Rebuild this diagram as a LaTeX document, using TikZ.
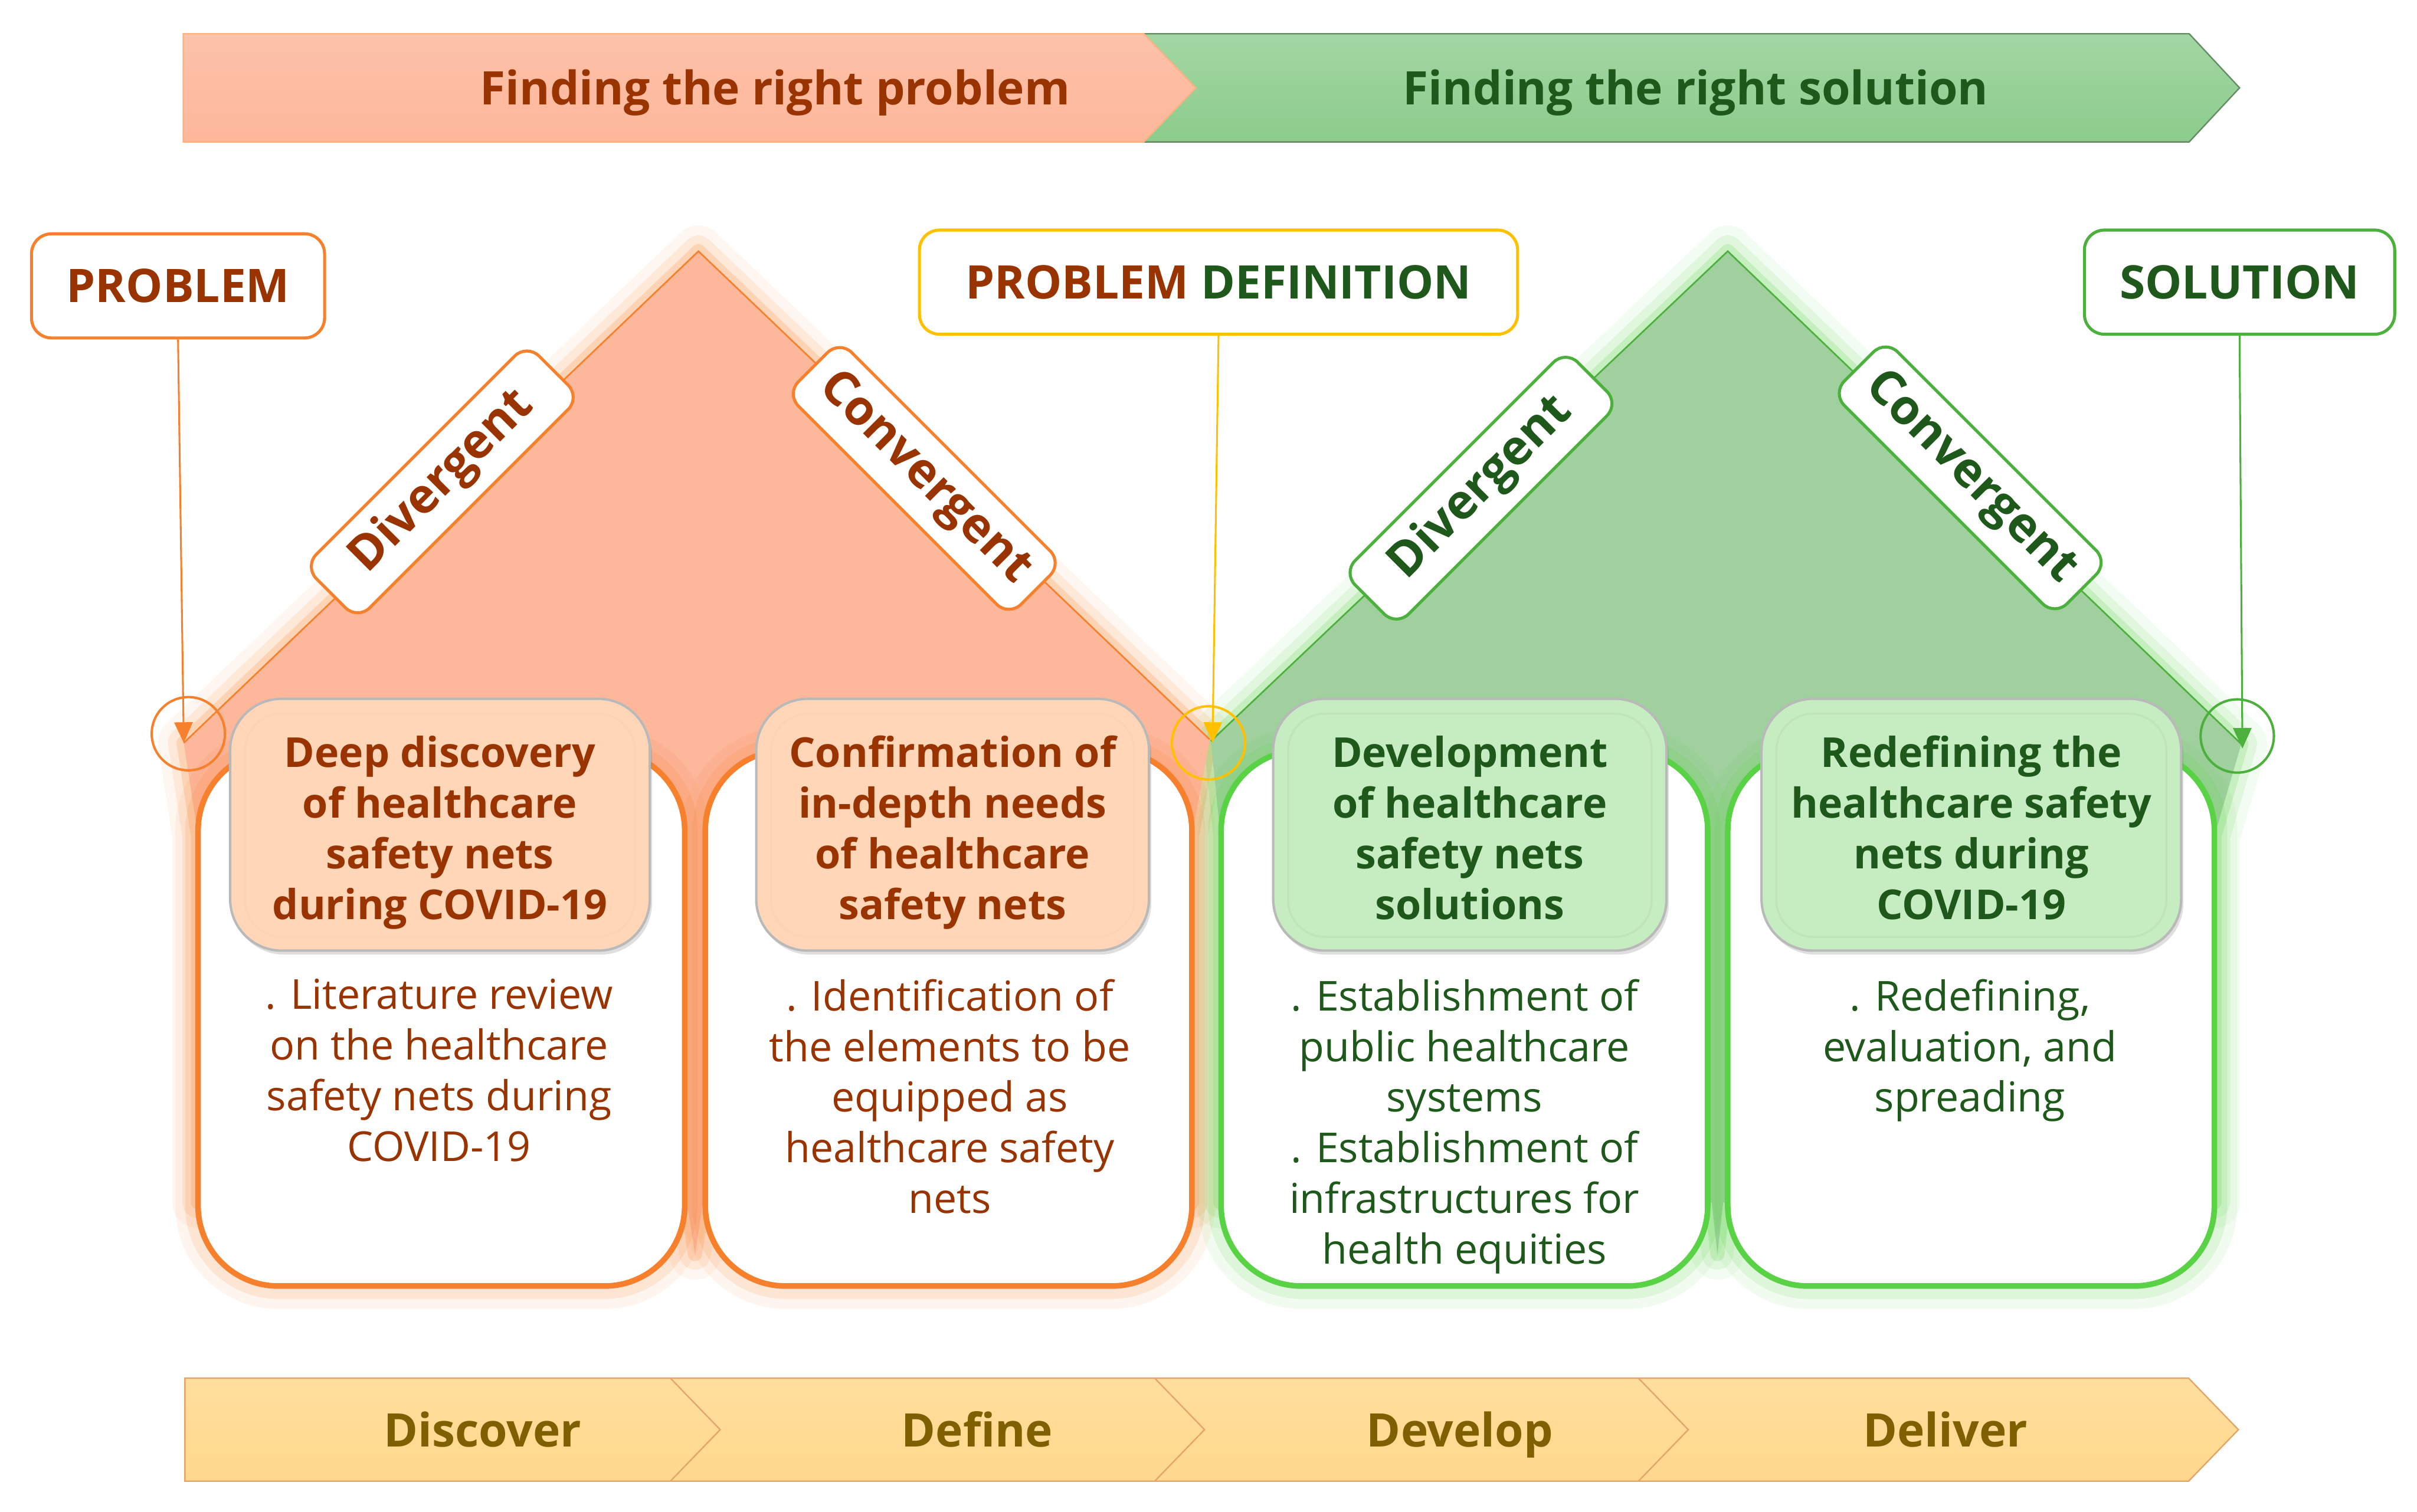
\documentclass[tikz,border=0pt]{standalone}
\usepackage{fontspec}
\setmainfont{Open Sans}
\usepackage{tikz}
\usetikzlibrary{positioning,arrows.meta,calc,shadows}
\definecolor{dpbrown}{RGB}{153,51,0}
\definecolor{dpgreen}{RGB}{30,88,26}
\definecolor{dpgold}{RGB}{127,96,0}
\definecolor{dporange}{RGB}{247,128,44}
\definecolor{dpyellow}{RGB}{255,192,0}
\definecolor{dplime}{RGB}{76,176,60}
\definecolor{dpglow}{RGB}{90,210,70}
\definecolor{dpsalmon}{RGB}{253,183,155}
\definecolor{dpsage}{RGB}{160,208,158}
\definecolor{dpleaf}{RGB}{140,204,140}
\definecolor{dppeach}{RGB}{255,214,184}
\definecolor{dpmint}{RGB}{198,236,194}
\definecolor{dpsand}{RGB}{255,216,140}
\tikzset{
  bandtext/.style={font=\fontsize{23}{27}\selectfont\bfseries, inner sep=0pt, anchor=base},
  calloutbox/.style={draw=#1, line width=1.5pt, rounded corners=0.35cm, fill=white,
                     minimum height=1.82cm, inner sep=0pt, font=\fontsize{23}{27}\selectfont\bfseries},
  ring/.style={circle, draw=#1, line width=1.2pt, minimum size=1.28cm, inner sep=0pt},
  pointarrow/.style={draw=#1, line width=0.9pt, -{Triangle[length=0.36cm,width=0.32cm]}},
  slantbox/.style={draw=#1, line width=1.5pt, rounded corners=0.3cm, fill=white,
                   minimum width=5.5cm, minimum height=1.32cm, inner sep=0pt,
                   font=\fontsize{24}{28}\selectfont\bfseries},
  phasebox/.style={draw=#1, line width=2.8pt, rounded corners=1.4cm, fill=white,
                   minimum width=8.5cm, minimum height=9.36cm, inner sep=0pt,
                   preaction={draw=#1, line width=0.8cm, draw opacity=0.08},
                   preaction={draw=#1, line width=0.45cm, draw opacity=0.14}},
  headbox/.style={fill=#1, draw=gray!55, line width=1.2pt, rounded corners=0.9cm,
                  minimum height=4.40cm, inner sep=0pt, align=center,
                  text height=3.3cm, text depth=0pt,
                  font=\fontsize{20.5}{25.2}\selectfont\bfseries,
                  drop shadow={shadow xshift=0.04cm, shadow yshift=-0.07cm, opacity=0.25}},
  bevel/.style={draw=#1, line width=1pt, rounded corners=0.65cm},
  bodytext/.style={font=\fontsize{20.5}{25.2}\selectfont, align=center, anchor=north, inner sep=0pt},
  chevron/.style={draw=brown!60!orange!70, line width=0.7pt, top color=dpsand!85!white, bottom color=dpsand},
}

\begin{document}
\begin{tikzpicture}[x=1cm, y=1cm]
\useasboundingbox (0,0) rectangle (42.22,26.41);

% top banner: the problem space runs into the solution space
\draw[draw=green!25!black!60, line width=0.7pt, top color=dpleaf!80!white, bottom color=dpleaf]
  (19.98,25.82) -- (38.24,25.82) -- (39.12,24.875) -- (38.24,23.93) -- (19.98,23.93) -- cycle;
\draw[draw=dporange!60, line width=0.7pt, top color=dpsalmon!85!white, bottom color=dpsalmon]
  (3.20,25.82) -- (19.98,25.82) -- (20.89,24.875) -- (19.98,23.93) -- (3.20,23.93) -- cycle;
\node[bandtext, text=dpbrown] (findP) at (13.54,24.58) {Finding the right problem};
\node[bandtext, text=dpgreen] (findS) at (29.62,24.58) {Finding the right solution};

% the two diamonds, corners at the three rings
\coordinate (oL) at (3.21,13.43);  \coordinate (oP) at (12.20,22.02); \coordinate (oR) at (21.13,13.49);
\coordinate (gL) at (21.15,13.46); \coordinate (gP) at (30.18,22.02); \coordinate (gR) at (39.15,13.41);

\foreach \w/\o in {0.9/0.07, 0.55/0.12, 0.25/0.2}
  \draw[dporange, line width=\w cm, draw opacity=\o, line join=round]
    (oL) -- (oP) -- (oR) -- (20.82,11.8) -- (20.82,5.4) -- (12.28,5.4) -- (12.14,4.5)
    -- (12.0,5.4) -- (3.46,5.4) -- (3.46,11.8) -- cycle;
\foreach \w/\o in {0.9/0.07, 0.55/0.12, 0.25/0.2}
  \draw[dpglow, line width=\w cm, draw opacity=\o, line join=round]
    (gL) -- (gP) -- (gR) -- (38.68,11.8) -- (38.68,5.4) -- (30.10,5.4) -- (30.0,4.5)
    -- (29.9,5.4) -- (21.32,5.4) -- (21.32,11.8) -- cycle;
\fill[dpsalmon] (oL) -- (oP) -- (oR) -- (20.82,11.8) -- (20.82,5.4) -- (12.28,5.4) -- (12.14,4.5)
  -- (12.0,5.4) -- (3.46,5.4) -- (3.46,11.8) -- cycle;
\fill[dpsage] (gL) -- (gP) -- (gR) -- (38.68,11.8) -- (38.68,5.4) -- (30.10,5.4) -- (30.0,4.5)
  -- (29.9,5.4) -- (21.32,5.4) -- (21.32,11.8) -- cycle;
\draw[dporange, line width=0.8pt] (oL) -- (oP) -- (oR);
\draw[dplime, line width=0.8pt] (gL) -- (gP) -- (gR);

% diagonal labels on the diamond edges
\node[slantbox=dporange, text=dpbrown, rotate=45]  (divP) at (7.725,17.99) {Divergent};
\node[slantbox=dporange, text=dpbrown, rotate=-45] (conP) at (16.145,18.05) {Convergent};
\node[slantbox=dplime, text=dpgreen, rotate=45]    (divS) at (25.87,17.88) {Divergent};
\node[slantbox=dplime, text=dpgreen, rotate=-45]   (conS) at (34.415,18.06) {Convergent};

% four phase columns
\node[phasebox=dporange] (box1) at (7.71,8.62) {};
\node[phasebox=dporange] (box2) at (16.57,8.62) {};
\node[phasebox=dpglow]   (box3) at (25.58,8.62) {};
\node[phasebox=dpglow]   (box4) at (34.43,8.62) {};

\node[headbox=dppeach, minimum width=7.33cm, text=dpbrown] (head1) at (7.685,12.0)
  {Deep discovery\\of healthcare\\safety nets\\during COVID-19};
\node[headbox=dppeach, minimum width=6.86cm, text=dpbrown] (head2) at (16.64,12.0)
  {Confirmation of\\in-depth needs\\of healthcare\\safety nets};
\node[headbox=dpmint, minimum width=6.87cm, text=dpgreen] (head3) at (25.675,12.0)
  {Development\\of healthcare\\safety nets\\solutions};
\node[headbox=dpmint, minimum width=7.33cm, text=dpgreen] (head4) at (34.435,12.0)
  {Redefining the\\healthcare safety\\nets during\\COVID-19};
\foreach \h/\c in {head1/dporange!35, head2/dporange!35, head3/dplime!35, head4/dplime!35}
  \draw[bevel=\c] ($(\h.north west)+(0.28,-0.28)$) rectangle ($(\h.south east)+(-0.28,0.26)$);

\node[bodytext, text=dpbrown] (text1) at (7.67,9.31)
  {. Literature review\\on the healthcare\\safety nets during\\COVID-19};
\node[bodytext, text=dpbrown] (text2) at (16.59,9.31)
  {. Identification of\\the elements to be\\equipped as\\healthcare safety\\nets};
\node[bodytext, text=dpgreen] (text3) at (25.58,9.31)
  {. Establishment of\\public healthcare\\systems\\. Establishment of\\infrastructures for\\health equities};
\node[bodytext, text=dpgreen] (text4) at (34.41,9.31)
  {. Redefining,\\evaluation, and\\spreading};

% callouts pointing at the diamond corners
\node[calloutbox=dporange, minimum width=5.12cm, text=dpbrown] (prob) at (3.11,21.415) {PROBLEM};
\node[calloutbox=dpyellow, minimum width=10.45cm] (pdef) at (21.285,21.48)
  {\textcolor{dpbrown}{PROBLEM} \textcolor{dpgreen}{DEFINITION}};
\node[calloutbox=dplime, minimum width=5.42cm, text=dpgreen] (sol) at (39.12,21.48) {SOLUTION};

\node[ring=dporange] (ringP) at (3.29,13.59) {};
\node[ring=dpyellow] (ringD) at (21.11,13.43) {};
\node[ring=dplime]   (ringS) at (39.08,13.55) {};
\coordinate (tipP) at (3.21,13.43);
\coordinate (tipD) at (21.18,13.43);
\coordinate (tipS) at (39.17,13.33);
\draw[pointarrow=dporange] (prob.south) -- (tipP);
\draw[pointarrow=dpyellow] (pdef.south) -- (tipD);
\draw[pointarrow=dplime]   (sol.south) -- (tipS);

% bottom banner, drawn right to left so each tip overlaps the next
\foreach \s/\e in {28.62/38.23, 20.17/28.62, 11.71/20.17, 3.23/11.71}
  \draw[chevron] (\s,2.33) -- (\e,2.33) -- ({\e+0.87},1.43) -- (\e,0.53) -- (\s,0.53) -- cycle;
\node[bandtext, text=dpgold] (disc) at (8.43,1.13) {Discover};
\node[bandtext, text=dpgold] (defi) at (17.07,1.13) {Define};
\node[bandtext, text=dpgold] (devl) at (25.50,1.13) {Develop};
\node[bandtext, text=dpgold] (delv) at (33.98,1.13) {Deliver};
\end{tikzpicture}
\end{document}
